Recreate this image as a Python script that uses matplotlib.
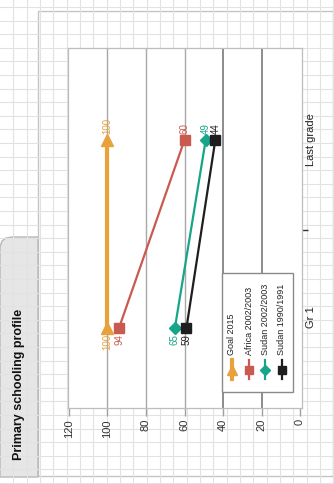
import matplotlib.pyplot as plt
from matplotlib.patches import Rectangle, Polygon
import numpy as np

# data
grades = ["Gr 1", "Last grade"]
series_names = ["Goal 2015", "Africa 2002/2003", "Sudan 2002/2003", "Sudan 1990/1991"]
goal_2015 = [100, 100]
africa_0203 = [94, 60]
sudan_0203 = [65, 49]
sudan_9091 = [59, 44]
value_ticks = [0, 20, 40, 60, 80, 100, 120]
title = "Primary schooling profile"

colors = ["#E9A23B", "#C95A4F", "#17A58A", "#1E1E1E"]
markers = ["^", "s", "D", "s"]
msizes = [8, 7, 6, 7]
widths = [3, 1.6, 1.6, 1.6]
series = [goal_2015, africa_0203, sudan_0203, sudan_9091]

plt.rcParams['font.family'] = ['Liberation Sans', 'DejaVu Sans']

W, H = 334, 484
fig = plt.figure(figsize=(W / 100, H / 100), dpi=100)

# graph paper background, panel and side tab (pixel coordinates)
bg = fig.add_axes([0, 0, 1, 1], zorder=0)
bg.set_xlim(0, W)
bg.set_ylim(H, 0)
bg.axis('off')
for x in np.arange(13.3, W, 13.33):
    bg.axvline(x, color='#e2e2e2', lw=0.8)
for y in np.arange(7, H, 13.6):
    bg.axhline(y, color='#e2e2e2', lw=0.8)
bg.add_patch(Rectangle((38, 11), 295, 465, facecolor='white', edgecolor='#c4c4c4', lw=1))
tab = Polygon([(0, 247), (2, 241), (6, 238), (12, 237), (38, 237), (38, 477), (0, 477)],
              closed=True, facecolor='#e6e6e6', edgecolor='#b8b8b8', lw=1)
bg.add_patch(tab)
bg.text(19, 460, title, rotation=90, rotation_mode='anchor', ha='left', va='center',
        fontsize=9, fontweight='bold', color='#111111',
        family=['Liberation Sans Narrow', 'Liberation Sans'])

# main chart, drawn rotated: values run right-to-left, grades bottom-to-top
grade_pos = [0, 1]
ax = fig.add_axes([68 / W, 1 - 408 / H, 234 / W, 360 / H], zorder=1)
ax.set_facecolor('white')
ax.set_xlim(120.5, -1)
ax.set_ylim(-0.426, 1.489)

for v in value_ticks[1:-1]:
    dark = v <= 40
    ax.axvline(v, color='#8c8c8c' if dark else '#a8a8a8', lw=1.4 if dark else 1, zorder=1)

for vals, c, m, ms, lw in zip(series, colors, markers, msizes, widths):
    ax.plot(vals, grade_pos, color=c, lw=lw, marker=m, ms=ms, zorder=3)
    # labels: below the marker at Gr 1, above it at Last grade
    ax.annotate(str(vals[0]), (vals[0], grade_pos[0]), xytext=(0, -4.5), textcoords='offset points',
                rotation=90, rotation_mode='anchor', ha='right', va='center', fontsize=7, color=c)
    ax.annotate(str(vals[1]), (vals[1], grade_pos[1]), xytext=(0, 4.5), textcoords='offset points',
                rotation=90, rotation_mode='anchor', ha='left', va='center', fontsize=7, color=c)

ax.set_xticks(value_ticks)
ax.set_xticklabels([str(v) for v in value_ticks], rotation=90, fontsize=8, color='#333333')
ax.tick_params(axis='x', length=6, width=1, color='#a0a0a0', pad=2)
ax.yaxis.tick_right()
ax.set_yticks([0.52])
ax.set_yticklabels([])
ax.tick_params(axis='y', length=4, width=1, color='#333333')
grade_label_pos = [0.06, 1.0]
for g, p in zip(grades, grade_label_pos):
    ax.text(1.04, p, g, transform=ax.get_yaxis_transform(), rotation=90,
            ha='center', va='center', fontsize=8, color='#222222')
for s in ax.spines.values():
    s.set_color('#bdbdbd')
    s.set_linewidth(0.9)

# legend drawn by hand, rotated like the chart
lg = fig.add_axes([0, 0, 1, 1], zorder=3)
lg.set_xlim(0, W)
lg.set_ylim(H, 0)
lg.axis('off')
lg.patch.set_alpha(0)
lg.add_patch(Rectangle((222, 273), 71, 119, facecolor='white', edgecolor='#8a8a8a', lw=1))
leg_x = [232, 249, 265, 282]
for name, x, c, m, ms, lw in zip(series_names, leg_x, colors, markers, msizes, widths):
    lg.plot([x, x], [360, 379], color=c, lw=lw)
    lg.plot([x], [369.5], color=c, marker=m, ms=ms - 1)
    lg.text(x, 355, name, rotation=90, rotation_mode='anchor', ha='left', va='center',
            fontsize=6.5, color='#222222')

fig.savefig('out.png', dpi=100)
